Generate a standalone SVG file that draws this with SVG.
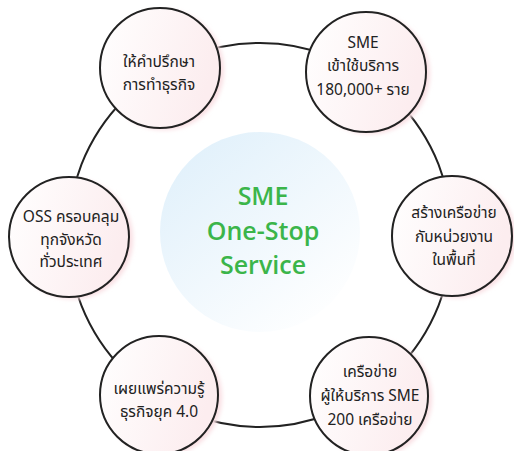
<svg xmlns="http://www.w3.org/2000/svg" width="514" height="451" viewBox="0 0 514 451">
<defs>
<linearGradient id="nodeFill" x1="0" y1="0" x2="1" y2="0.3">
<stop offset="0" stop-color="#ffffff"/>
<stop offset="1" stop-color="#fcedef"/>
</linearGradient>
<linearGradient id="hubFill" x1="0.15" y1="0.1" x2="0.85" y2="0.95">
<stop offset="0" stop-color="#e2f1fb"/>
<stop offset="1" stop-color="#ffffff"/>
</linearGradient>
<filter id="soft" x="-20%" y="-20%" width="140%" height="140%">
<feGaussianBlur stdDeviation="2"/>
</filter>
</defs>
<style>
.ring{fill:none;stroke:#222;stroke-width:2}
.shadow{fill:#f9dfe3;filter:url(#soft)}
.node{fill:url(#nodeFill);stroke:#222;stroke-width:2}
.lbl{font-family:"Noto Sans Thai","Noto Sans","DejaVu Sans",sans-serif;font-size:15.5px;fill:#222;text-anchor:middle}
.hubtxt{font-family:"Open Sans","Noto Sans",sans-serif;font-size:25px;font-weight:600;fill:#3bb54a;text-anchor:middle}
</style>
<rect width="514" height="451" fill="#ffffff"/>
<g id="connectors">
<circle class="ring" cx="260" cy="235" r="192"/>
</g>
<g id="hub">
<circle cx="260" cy="232" r="100" fill="url(#hubFill)"/>
<text class="hubtxt" x="263" y="205">SME</text>
<text class="hubtxt" x="263" y="240">One-Stop</text>
<text class="hubtxt" x="263" y="274">Service</text>
</g>
<g id="n1">
<circle class="shadow" cx="164" cy="70" r="60"/>
<circle class="node" cx="160" cy="68" r="60"/>
<text class="lbl" x="159" y="67">ให้คำปรึกษา</text>
<text class="lbl" x="159" y="90">การทำธุรกิจ</text>
</g>
<g id="n2">
<circle class="shadow" cx="370" cy="74" r="60"/>
<circle class="node" cx="366" cy="72" r="60"/>
<text class="lbl" x="363" y="48">SME</text>
<text class="lbl" x="363" y="71">เข้าใช้บริการ</text>
<text class="lbl" x="363" y="95">180,000+ ราย</text>
</g>
<g id="n3">
<circle class="shadow" cx="456" cy="238" r="60"/>
<circle class="node" cx="452" cy="236" r="60"/>
<text class="lbl" x="454" y="218">สร้างเครือข่าย</text>
<text class="lbl" x="454" y="242">กับหน่วยงาน</text>
<text class="lbl" x="454" y="265">ในพื้นที่</text>
</g>
<g id="n4">
<circle class="shadow" cx="373" cy="398" r="59"/>
<circle class="node" cx="369" cy="396" r="59"/>
<text class="lbl" x="370" y="377">เครือข่าย</text>
<text class="lbl" x="370" y="401">ผู้ให้บริการ SME</text>
<text class="lbl" x="370" y="425">200 เครือข่าย</text>
</g>
<g id="n5">
<circle class="shadow" cx="163" cy="397" r="59"/>
<circle class="node" cx="159" cy="395" r="59"/>
<text class="lbl" x="159" y="394">เผยแพร่ความรู้</text>
<text class="lbl" x="159" y="417">ธุรกิจยุค 4.0</text>
</g>
<g id="n6">
<circle class="shadow" cx="73" cy="239" r="60"/>
<circle class="node" cx="69" cy="237" r="60"/>
<text class="lbl" x="71" y="222">OSS ครอบคลุม</text>
<text class="lbl" x="71" y="245">ทุกจังหวัด</text>
<text class="lbl" x="71" y="267">ทั่วประเทศ</text>
</g>
</svg>
